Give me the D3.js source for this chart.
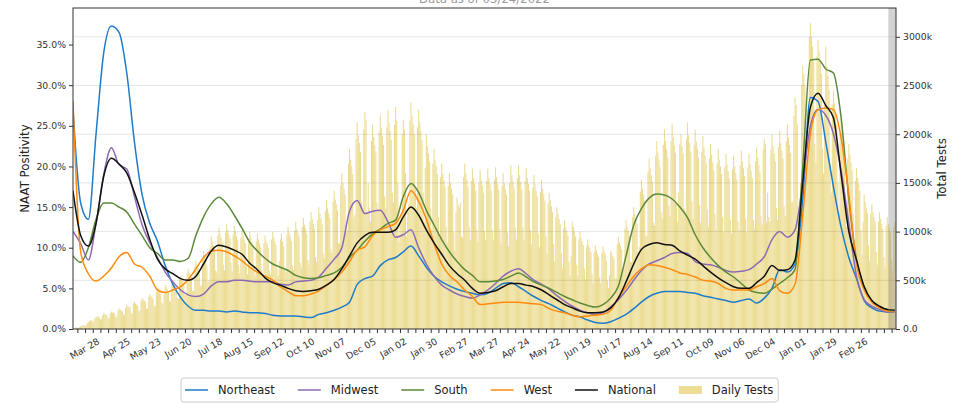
<!DOCTYPE html>
<html>
<head>
<meta charset="utf-8">
<script src="https://cdn.jsdelivr.net/npm/d3@7"></script>
<style>
  body { margin: 0; background: #fff; }
  svg { font-family: "DejaVu Sans", sans-serif; display: block; }
</style>
</head>
<body>
<svg></svg>
<script>
// NAAT positivity (%), 7-day average, one reading per week from 2020-03-03
const northeast = [27,15.5,13.5,24,34,37.3,36.5,31.5,23,16.5, 13,10.8,7.8,5.5,3.9,2.8,2.3,2.3,2.2,2.2,
  2.1,2.2,2.1,2.0,2.0,1.9,1.7,1.6,1.6,1.6, 1.5,1.4,1.8,2.0,2.3,2.7,3.3,5.5,6.2,6.5,
  7.8,8.5,8.8,9.5,10.2,9.0,7.6,6.5,5.8,5.3, 4.9,4.6,4.4,4.2,4.4,5.0,5.6,5.7,5.2,4.6,
  4.0,3.5,3.1,2.6,2.1,1.7,1.5,1.1,0.8,0.7, 0.9,1.3,1.8,2.5,3.3,4.0,4.4,4.6,4.6,4.6,
  4.5,4.4,4.1,3.9,3.7,3.5,3.3,3.5,3.7,3.2, 3.8,5.0,7.3,7.0,8.0,16,28.5,28,23,17.5,
  12.5,8.8,6.2,3.5,2.6,2.2,2.1,2.1];
const midwest = [12,10.5,8.5,13,19,22.3,20.2,19.7,16.3,12.8, 10.6,8.8,7.0,5.8,4.8,4.2,4.0,4.3,5.3,5.8,
  5.8,6.0,6.0,5.9,5.8,5.8,5.8,5.5,5.4,5.8, 5.9,6.0,6.4,7.5,8.6,10.0,14.5,15.8,14.2,14.5,
  14.6,13.2,11.3,11.6,12.2,10.0,8.0,6.5,5.4,4.8, 4.3,4.0,3.8,4.2,4.8,5.6,6.5,7.1,7.4,6.8,
  6.0,5.5,4.9,4.1,3.4,2.8,2.3,2.0,1.8,2.0, 2.7,3.6,4.7,6.0,7.2,8.0,8.4,8.8,9.3,9.4,
  9.3,8.3,8.0,7.9,7.6,7.2,7.0,7.1,7.3,8.0, 8.9,11,12.0,11.3,12.2,18,25,27.0,26.3,24,
  19.5,13,6.5,3.6,2.8,2.4,2.1,2.1];
const south = [9,8.2,10,13.5,15.5,15.5,15.0,14.4,12.9,11.5, 10.0,9.3,8.5,8.5,8.3,8.7,11.5,13.8,15.4,16.2,
  15.4,14.0,12.4,10.7,9.6,8.7,8.0,7.6,7.2,6.6, 6.3,6.2,6.3,6.6,6.9,7.6,8.8,9.7,10.8,11.7,
  12.3,13.0,13.4,16.3,17.9,16.8,14.6,12.8,11.0,9.5, 8.3,7.3,6.6,5.8,5.8,5.9,6.1,6.5,6.9,6.4,
  5.8,5.4,5.0,4.5,4.0,3.6,3.2,2.9,2.7,3.0, 3.8,5.3,9.0,12.8,14.8,16.1,16.6,16.5,16.0,15.0,
  13.7,11.6,10.0,8.8,7.8,7.0,6.4,5.6,4.8,4.5, 4.4,4.9,5.6,6.3,7.3,20,33.1,33.2,32.0,31.5,
  26,16,8.5,5.2,3.4,2.7,2.4,2.3];
const west = [28,9.5,6.8,5.9,6.5,7.5,8.9,9.4,8.0,7.6, 6.5,4.8,4.5,4.8,5.2,6.1,7.4,8.8,9.6,9.7,
  9.5,9.0,8.4,7.6,7.0,6.5,6.0,5.2,4.6,4.1, 4.1,4.3,4.7,5.4,6.1,7.0,8.3,9.7,10.1,11.5,
  12.2,12.6,13.0,14.6,17.0,15.7,13.5,10.5,8.0,6.6, 5.8,4.8,4.0,3.0,3.1,3.2,3.3,3.3,3.3,3.2,
  3.1,3.0,2.5,2.2,2.0,1.7,1.5,1.6,1.7,1.8, 2.3,3.9,5.2,6.5,7.4,7.9,7.8,7.6,7.3,6.9,
  6.7,6.4,6.0,5.9,5.6,5.0,4.8,4.8,4.8,5.2, 5.6,6.2,4.7,4.4,5.5,14,24,27.0,27.2,27.0,
  23.5,16.5,8.0,4.8,3.3,2.6,2.2,2.1];
const national = [17,11.5,10.2,13,18.8,21.0,20.3,19.2,16.8,14.0, 11.0,8.6,7.4,6.8,6.2,6.0,6.5,8.0,9.6,10.3,
  10.1,9.7,9.2,8.1,7.3,6.3,5.7,5.4,5.0,4.7, 4.6,4.7,4.9,5.4,6.1,7.4,9.0,10.6,11.5,11.9,
  11.9,11.9,12.2,13.8,15.0,14.0,12.2,10.6,9.2,7.8, 6.8,6.0,5.0,4.4,4.5,4.7,5.2,5.6,5.6,5.4,
  5.2,4.8,4.2,3.6,3.0,2.6,2.2,2.0,2.0,2.1, 2.6,3.8,5.8,8.0,9.8,10.4,10.6,10.4,10.3,9.6,
  9.1,8.6,7.8,7.0,6.3,5.7,5.2,5.0,5.0,5.7, 6.5,7.8,7.2,7.3,8.5,18,27.3,29.0,27.5,26,
  19,12,8.5,5.2,3.5,2.8,2.4,2.3];

// daily total tests in units of 10k, one row per week Sun..Sat from 2020-03-01
const testsByWeek = [
  [0,0,0,1,1,2,1],[1,2,3,3,4,4,3],[4,6,7,8,9,9,7],[8,11,12,13,13,12,10],
  [10,14,16,15,15,14,11],[11,16,18,17,17,16,12],[13,19,21,20,19,18,14],[15,22,25,23,23,22,16],
  [16,26,28,26,25,24,18],[19,29,32,30,29,28,21],[21,33,36,34,32,31,23],[24,38,42,39,38,36,27],
  [26,36,45,43,41,39,29],[28,46,50,47,45,43,32],[31,51,55,52,50,47,35],[35,57,62,58,56,53,39],
  [39,64,70,66,63,60,44],[45,73,80,75,72,65,48],[50,85,95,90,86,82,60],[58,96,104,98,94,89,66],
  [60,99,108,102,97,93,68],[59,97,106,100,95,91,66],[57,94,102,96,92,88,64],[56,92,100,94,90,86,62],
  [55,90,98,92,88,84,61],[54,88,96,90,87,83,60],[56,92,100,94,90,86,62],[55,70,92,98,90,85,61],
  [58,97,105,99,95,90,65],[61,101,110,103,99,95,68],[63,105,114,107,103,98,71],[66,110,120,113,108,103,74],
  [69,112,125,118,113,108,78],[73,121,132,124,119,114,82],[78,131,142,133,128,122,88],[88,147,160,150,144,138,99],
  [102,170,185,174,167,159,115],[117,195,212,199,191,182,131],[125,205,223,215,120,150,125],[110,193,210,197,189,181,130],
  [121,202,220,207,198,189,136],[124,207,225,212,203,194,140],[130,210,228,214,150,90,110],[115,200,215,205,160,95,120],
  [128,214,233,219,210,200,144],[124,207,225,212,203,194,140],[110,165,200,188,180,172,124],[102,170,185,174,167,159,115],
  [94,156,170,160,153,146,105],[88,147,160,150,144,138,99],[80,120,135,128,125,130,95],[94,156,170,160,153,146,105],
  [91,152,165,155,149,142,102],[90,150,163,153,147,140,101],[91,152,165,155,149,142,102],[91,153,166,156,149,143,103],
  [88,147,160,150,144,138,99],[85,150,168,158,151,144,104],[92,155,168,158,151,144,104],[91,152,165,155,149,142,102],
  [87,145,158,149,142,136,98],[84,141,153,144,138,132,95],[77,129,140,132,126,120,87],[69,115,125,118,113,108,78],
  [62,103,112,105,101,96,69],[55,75,110,105,100,95,66],[55,92,100,94,90,86,62],[51,85,92,86,83,79,57],
  [47,79,86,81,77,74,53],[47,78,85,80,77,70,50],[42,55,80,78,75,72,52],[52,87,95,89,86,82,59],
  [62,103,112,105,101,96,69],[69,115,125,118,113,108,78],[84,141,153,144,138,132,95],[96,161,175,165,158,151,109],
  [106,178,193,181,174,166,120],[113,189,205,193,185,176,127],[116,193,210,197,189,181,130],[110,140,190,200,188,180,124],
  [117,195,212,199,191,182,131],[113,189,205,193,185,176,127],[109,182,198,186,178,170,123],[105,175,190,179,171,163,118],
  [102,170,185,174,167,159,115],[99,166,180,169,162,155,112],[98,164,178,167,160,153,110],[101,168,183,172,165,157,113],
  [99,166,180,169,162,155,112],[103,172,187,176,168,161,116],[107,185,195,190,110,140,115],[110,184,200,188,180,172,124],
  [112,187,203,191,183,175,126],[116,193,210,197,189,181,130],[131,219,238,230,210,120,130],[150,250,270,262,250,180,160],
  [175,300,314,300,290,275,190],[170,280,297,285,275,262,185],[160,230,290,270,260,245,170],[140,230,245,232,222,210,150],
  [120,200,215,202,194,185,133],[105,175,190,179,171,163,118],[91,152,165,155,149,142,102],[76,110,138,130,124,119,86],
  [70,118,128,120,115,110,79],[66,110,120,113,108,103,74],[63,106,115,108,104,99,71],[60,105,110]
];

const pctTicks = [0, 5, 10, 15, 20, 25, 30, 35];
const testTicks = [0, 500, 1000, 1500, 2000, 2500, 3000];
const incompleteFrom = new Date(2022, 2, 16);

const series = [
  { name: "Northeast", values: northeast, color: "#1f7bcb" },
  { name: "Midwest", values: midwest, color: "#8c6bb4" },
  { name: "South", values: south, color: "#5a8a3a" },
  { name: "West", values: west, color: "#ff8a0d" },
  { name: "National", values: national, color: "#111111" },
];
const barColor = "#eddd94";

const width = 959;
const height = 403;
const plot = { left: 73, right: 896, top: 8, bottom: 329 };

const svg = d3.select("svg").attr("width", width).attr("height", height);

const lineStart = new Date(2020, 2, 3);
const barStart = new Date(2020, 2, 1);
const weekDates = northeast.map((d, i) => d3.timeDay.offset(lineStart, 7 * i));

const x = d3.scaleTime()
  .domain([lineStart, new Date(2022, 2, 23)])
  .range([plot.left, plot.right]);
const yPct = d3.scaleLinear().domain([0, 39.5]).range([plot.bottom, plot.top]);
const yTests = d3.scaleLinear().domain([0, 3296]).range([plot.bottom, plot.top]);

svg.append("clipPath").attr("id", "plot-clip")
  .append("rect")
  .attr("x", plot.left).attr("y", plot.top)
  .attr("width", plot.right - plot.left).attr("height", plot.bottom - plot.top);

// title (cut off at the top, as in the source)
svg.append("text")
  .attr("x", (plot.left + plot.right) / 2)
  .attr("y", 3)
  .attr("text-anchor", "middle")
  .attr("font-size", 11.7)
  .attr("fill", "#9a9a9a")
  .text("Data as of 03/24/2022");

// daily test bars
const dailyTests = testsByWeek.flat();
const dayW = x(d3.timeDay.offset(lineStart, 1)) - x(lineStart);
svg.append("g")
  .attr("clip-path", "url(#plot-clip)")
  .selectAll("rect")
  .data(dailyTests)
  .join("rect")
  .attr("x", (d, i) => x(d3.timeDay.offset(barStart, i)) - dayW * 0.5)
  .attr("width", dayW)
  .attr("y", (d) => yTests(d * 10))
  .attr("height", (d) => plot.bottom - yTests(d * 10))
  .attr("fill", barColor);

// grid from the right axis
svg.append("g")
  .selectAll("line")
  .data(testTicks.slice(1))
  .join("line")
  .attr("x1", plot.left).attr("x2", plot.right)
  .attr("y1", (d) => yTests(d)).attr("y2", (d) => yTests(d))
  .attr("stroke", "#000")
  .attr("stroke-opacity", 0.1)
  .attr("stroke-width", 1);

// positivity lines
const line = d3.line()
  .x((d, i) => x(weekDates[i]))
  .y((d) => yPct(d))
  .curve(d3.curveMonotoneX);

svg.append("g")
  .attr("clip-path", "url(#plot-clip)")
  .selectAll("path")
  .data(series)
  .join("path")
  .attr("d", (s) => line(s.values))
  .attr("fill", "none")
  .attr("stroke", (s) => s.color)
  .attr("stroke-width", 1.5)
  .attr("stroke-linejoin", "round");

// shaded incomplete period
svg.append("rect")
  .attr("x", x(incompleteFrom))
  .attr("y", plot.top)
  .attr("width", plot.right - x(incompleteFrom))
  .attr("height", plot.bottom - plot.top)
  .attr("fill", "#808080")
  .attr("opacity", 0.35);

// axes
const tickColor = "#333";
const yLeft = svg.append("g")
  .attr("transform", `translate(${plot.left},0)`)
  .call(d3.axisLeft(yPct).tickValues(pctTicks).tickFormat((d) => d.toFixed(1) + "%").tickSize(4).tickPadding(3));

const yRight = svg.append("g")
  .attr("transform", `translate(${plot.right},0)`)
  .call(d3.axisRight(yTests).tickValues(testTicks)
    .tickFormat((d) => (d === 0 ? "0.0" : d + "k")).tickSize(4).tickPadding(3));

const majorDates = d3.timeDay.range(new Date(2020, 2, 28), new Date(2022, 2, 1), 28);
const majorSet = new Set(majorDates.map((d) => +d));
const minorDates = d3.timeDay.range(new Date(2020, 2, 7), new Date(2022, 2, 23), 7);
const fmt = d3.timeFormat("%b %d");

const xAxis = svg.append("g")
  .attr("transform", `translate(0,${plot.bottom})`)
  .call(d3.axisBottom(x).tickValues(minorDates)
    .tickFormat((d) => (majorSet.has(+d) ? fmt(d) : "")).tickSize(4));

xAxis.selectAll("text")
  .attr("y", 0)
  .attr("dy", "0.6em")
  .attr("text-anchor", "end")
  .attr("transform", "translate(-3.5,9.5) rotate(-30)");

[yLeft, yRight, xAxis].forEach((g) => {
  g.select(".domain").remove();
  g.selectAll("line").attr("stroke", tickColor);
  g.selectAll("text").attr("fill", tickColor).attr("font-size", 9.3)
    .attr("font-family", "DejaVu Sans, sans-serif");
});

// frame
svg.append("rect")
  .attr("x", plot.left).attr("y", plot.top)
  .attr("width", plot.right - plot.left).attr("height", plot.bottom - plot.top)
  .attr("fill", "none")
  .attr("stroke", "#333")
  .attr("stroke-width", 1);

// axis labels
svg.append("text")
  .attr("transform", `translate(25,${(plot.top + plot.bottom) / 2}) rotate(-90)`)
  .attr("text-anchor", "middle")
  .attr("dy", "0.35em")
  .attr("font-size", 11.8)
  .attr("fill", "#222")
  .text("NAAT Positivity");

svg.append("text")
  .attr("transform", `translate(942,${(plot.top + plot.bottom) / 2}) rotate(-90)`)
  .attr("text-anchor", "middle")
  .attr("dy", "0.35em")
  .attr("font-size", 11.8)
  .attr("fill", "#222")
  .text("Total Tests");

// legend
const legend = svg.append("g");
const legendBox = legend.append("rect")
  .attr("x", 181).attr("y", 378)
  .attr("height", 24).attr("rx", 3)
  .attr("fill", "#fff")
  .attr("stroke", "#cccccc");

let cursor = 185;
const legendY = 390;
const legendItems = series.map((s) => ({ name: s.name, color: s.color, kind: "line" }))
  .concat([{ name: "Daily Tests", color: barColor, kind: "bar" }]);

legendItems.forEach((item) => {
  if (item.kind === "line") {
    legend.append("line")
      .attr("x1", cursor).attr("x2", cursor + 23)
      .attr("y1", legendY).attr("y2", legendY)
      .attr("stroke", item.color).attr("stroke-width", 1.5);
  } else {
    legend.append("rect")
      .attr("x", cursor).attr("y", legendY - 4)
      .attr("width", 23).attr("height", 8)
      .attr("fill", item.color);
  }
  const t = legend.append("text")
    .attr("x", cursor + 33)
    .attr("y", legendY)
    .attr("dy", "0.35em")
    .attr("font-size", 11.5)
    .attr("fill", "#222")
    .text(item.name);
  cursor += 33 + t.node().getComputedTextLength() + 23;
});
legendBox.attr("width", cursor - 23 + 5 - 181);
</script>
</body>
</html>
